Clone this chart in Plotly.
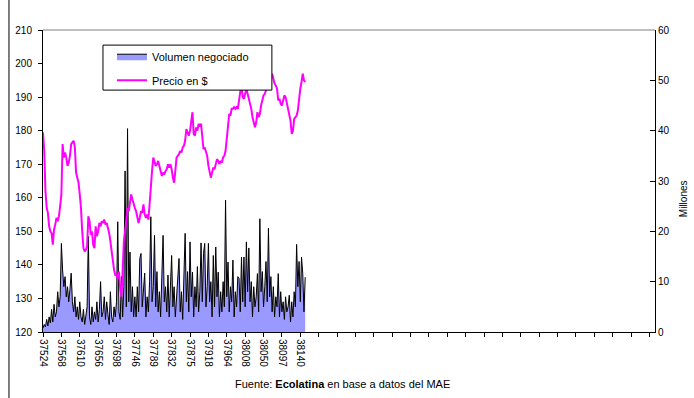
import plotly.graph_objects as go

# ---- data ----
labels = ["37524", "37568", "37610", "37656", "37698", "37746", "37789", "37832",
          "37875", "37918", "37964", "38008", "38050", "38097", "38140"]

precio = [
    179.5, 174, 162, 157, 155.5, 151.5, 150, 149.5, 146, 150.5, 152, 154, 153, 154.5, 157.5,
    161, 176, 172, 173.5, 172, 169.5, 170.5, 172.5, 176, 176.5, 177, 175, 167.5, 166, 164.5,
    161, 157, 150, 145, 144, 144.5, 145.5, 154.5, 153, 149, 150, 146, 145, 151.5, 148.5,
    150, 152.5, 151.5, 153, 152.5, 153.5, 152, 152.5, 151, 149.5, 147, 144, 140, 138.5, 137,
    137, 136, 138, 133, 130.5, 138, 147, 150, 155, 157, 156, 159, 161, 159.5, 158,
    157, 156, 154, 152.5, 154, 156, 155.5, 158, 155, 154, 155, 153.5, 158, 165, 168,
    172, 171, 169.5, 170, 171, 169.5, 168, 166.5, 167.5, 167, 168, 168.5, 170, 169, 170,
    168.5, 166, 164.5, 168, 172, 172.5, 173, 174, 173.5, 175, 175.5, 177, 180.5, 179.5, 178.5,
    180, 183, 185.5, 179, 178.5, 181, 180, 182, 181.5, 182, 178, 174.5, 175, 174, 172.5,
    169.5, 167.5, 166, 167.5, 169, 168.5, 170, 171.5, 171, 170, 171, 170.5, 172, 172.5, 174,
    178, 183, 185, 184.5, 186.5, 186.5, 187, 186.5, 187, 186.5, 190, 191.5, 194, 190, 189.5,
    191, 192.5, 191, 189.5, 188.5, 186.5, 184, 182.5, 181, 182.5, 185.5, 184, 185, 187.5, 189,
    190.5, 191, 192, 193, 194.5, 195.5, 196.5, 197, 195.5, 194, 193.5, 192.5, 189, 189.5, 188,
    187.5, 189, 190.5, 190, 188, 186, 184.5, 183, 179, 180, 183.5, 184, 184.5, 186, 190,
    192.5, 194.5, 197, 195, 194.5,
]

volumen = [
    0.8, 1.5, 1.0, 2.5, 1.2, 3.0, 1.8, 4.5, 2.0, 5.5, 3.0, 4.0, 8.0, 5.0, 7.0,
    17.6, 12.3, 9, 11, 7, 9, 6, 8.5, 11.7, 6, 4, 7, 3, 5, 2.5,
    6, 3, 2, 4.5, 1.5, 3, 5, 19, 3, 1.5, 5, 2, 4, 2.5, 6,
    2, 4.5, 10, 3, 4, 7, 2.5, 6, 3.5, 1.5, 8, 3, 2, 5, 3,
    6, 21.9, 4, 2.5, 11, 3, 9, 32, 5, 40.4, 6, 15.9, 4, 9, 3,
    7, 3, 9, 4, 14.6, 15.6, 5, 8, 11.7, 3, 7, 4, 10, 22.9, 6,
    9, 19.2, 5, 12, 4, 8, 3, 10, 19.2, 6, 9, 4, 11.3, 3, 8,
    15.2, 5, 9, 3, 7, 11, 14.6, 4, 8, 2.5, 10, 19.6, 6, 12, 4,
    17.9, 7, 11.9, 3, 9, 5, 13, 4, 8, 17.7, 6, 15.6, 17.6, 5, 9,
    17.6, 6, 10, 3, 15.2, 5, 16.9, 7, 11.9, 3, 8, 4, 10, 5, 26.2,
    7, 13.9, 4, 9, 6, 14.3, 3, 8, 5, 11, 10.7, 4, 14.9, 6, 14.9,
    5, 17.9, 8, 16.7, 6, 10, 3, 9, 5, 7, 11.6, 4, 22.5, 8, 12,
    5, 9, 14, 6, 20.6, 7, 11, 4, 9, 3, 7, 5, 11.6, 3, 8,
    4, 6, 2.5, 7, 4, 5, 7.3, 2, 6, 3, 8, 5, 17.4, 9, 14,
    6, 14.9, 11.6, 4, 10.9,
]

n = len(precio)
idx = list(range(n))
step = 15
n_ticks = 34
tickvals = [i * step for i in range(n_ticks)]
ticktext = labels + [""] * (n_ticks - len(labels))

FONT = "Arial, 'Liberation Sans', sans-serif"

fig = go.Figure()
fig.add_trace(go.Scatter(
    x=idx, y=volumen, name="Volumen negociado", mode="lines",
    fill="tozeroy", fillcolor="#9999FF",
    line=dict(color="black", width=1), yaxis="y", legendgroup="v"))
fig.add_trace(go.Scatter(
    x=idx, y=precio, name="Precio en $", mode="lines",
    line=dict(color="#FF00FF", width=2), yaxis="y2", legendgroup="p"))

xr = [0, 499.5]
fig.update_layout(
    width=694, height=398,
    margin=dict(l=43, r=39, t=30, b=66),
    paper_bgcolor="white", plot_bgcolor="white",
    hovermode=False,
    font=dict(family=FONT, size=10, color="black"),
    xaxis=dict(range=xr, tickmode="array", tickvals=tickvals, ticktext=ticktext,
               tickangle=90, ticks="outside", ticklen=4, tickcolor="black",
               showline=True, linecolor="black", linewidth=1, automargin=False,
               showgrid=False, zeroline=False, tickfont=dict(size=10)),
    xaxis2=dict(range=xr, overlaying="x", anchor="y", side="bottom",
                tickmode="array", tickvals=tickvals, ticks="inside", ticklen=4,
                tickcolor="black", showticklabels=False, showline=False,
                automargin=False, showgrid=False, zeroline=False),
    yaxis=dict(range=[0, 60], dtick=10, side="right", ticks="inside", ticklen=5,
               tickcolor="black", showline=True, linecolor="black", linewidth=1,
               automargin=False, showgrid=False, zeroline=False,
               tickfont=dict(size=10)),
    yaxis2=dict(range=[120, 210], dtick=10, side="left", overlaying="y",
                ticks="outside", ticklen=4, tickcolor="black", showline=True,
                linecolor="black", linewidth=1, showgrid=False, zeroline=False,
                automargin=False, ticklabelstandoff=4, tickfont=dict(size=10)),
    showlegend=True,
    legend=dict(x=0.1127, y=0.9612, xanchor="left", yanchor="top",
                bgcolor="rgba(0,0,0,0)", borderwidth=0,
                font=dict(size=11, family=FONT), traceorder="grouped",
                tracegroupgap=5),
    shapes=[
        dict(type="rect", xref="paper", yref="paper", x0=0.098, x1=0.374,
             y0=0.801, y1=0.950, line=dict(color="black", width=1),
             fillcolor="white", layer="above"),
        dict(type="line", xref="paper", yref="paper", x0=0, x1=1, y0=1, y1=1,
             line=dict(color="#808080", width=1)),
        dict(type="line", xref="paper", yref="paper", x0=-0.0556, x1=-0.0556,
             y0=-0.22, y1=1.1, line=dict(color="black", width=1)),
    ],
    annotations=[
        dict(text="Millones", xref="paper", yref="paper", x=1.0458, y=0.44,
             textangle=-90, showarrow=False, font=dict(size=10),
             xanchor="center", yanchor="middle"),
        dict(text="Fuente: <b>Ecolatina</b> en base a datos del MAE",
             xref="paper", yref="paper", x=0.490, y=-0.172, showarrow=False,
             font=dict(size=11), xanchor="center", yanchor="middle"),
    ],
)

fig.write_html("out.html",
               config={"displayModeBar": False, "staticPlot": True},
               post_script="document.body.style.margin='0px';"
                           "document.body.style.overflow='hidden';")
